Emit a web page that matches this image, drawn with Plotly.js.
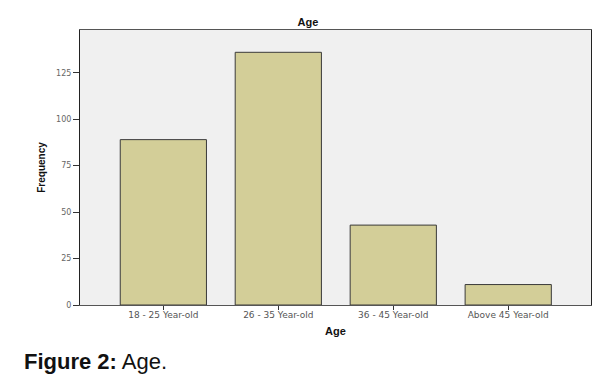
<!DOCTYPE html>
<html>
<head>
<meta charset="utf-8">
<script src="https://cdn.plot.ly/plotly-3.0.1.min.js"></script>
<style>html,body{margin:0;padding:0;background:#fff;}#chart{width:607px;height:377px;}</style>
</head>
<body>
<div id="chart"></div>
<script>
const categories = ["18 - 25 Year-old", "26 - 35 Year-old", "36 - 45 Year-old", "Above 45 Year-old"];
const frequency = [89, 136, 43, 11];
const yTickVals = [0, 25, 50, 75, 100, 125];
const yTickText = ["0", "25", "50", "75", "100", "125"];

const W = 607, H = 377;
const m = {l: 80, r: 16, t: 30, b: 72};
const pw = W - m.l - m.r, ph = H - m.t - m.b;
const px = x => (x - m.l) / pw;
const py = y => (H - m.b - y) / ph;

const trace = {
  type: 'bar',
  x: categories,
  y: frequency,
  width: 0.75,
  marker: {color: '#d3ce98', line: {color: '#3a3a3a', width: 1}},
  hoverinfo: 'x+y'
};

const layout = {
  width: W, height: H,
  margin: m,
  paper_bgcolor: '#ffffff',
  plot_bgcolor: '#f0f0f0',
  font: {family: 'Liberation Sans, Arial, sans-serif', color: '#333'},
  showlegend: false,
  title: {text: '<b>Age</b>', font: {size: 11, color: '#111'}, xref: 'container', x: 308/W, xanchor: 'center', yref: 'container', y: 1 - 22/H, yanchor: 'middle'},
  xaxis: {
    type: 'category',
    range: [-0.725, 3.72],
    showline: true, linecolor: '#555', linewidth: 1, mirror: true,
    ticks: 'outside', ticklen: 4, tickcolor: '#333', tickwidth: 1,
    ticklabelstandoff: -3,
    tickfont: {size: 9, color: '#555', family: 'DejaVu Sans, sans-serif'},
    showgrid: false, zeroline: false,
    title: {text: '<b>Age</b>', font: {size: 11, color: '#111'}, standoff: 8}
  },
  yaxis: {
    range: [0, 148],
    tickvals: yTickVals, ticktext: yTickText,
    showline: true, linecolor: '#222', linewidth: 1, mirror: true,
    ticks: 'outside', ticklen: 6, tickcolor: '#333', tickwidth: 1,
    tickfont: {size: 8, color: '#666', family: 'DejaVu Sans, sans-serif'},
    showgrid: false, zeroline: false,
    title: {text: '<b>Frequency</b>', font: {size: 10, color: '#111'}, standoff: 8}
  },
  annotations: [
    {xref: 'paper', yref: 'paper', x: px(22), y: py(361), xanchor: 'left', yanchor: 'middle', showarrow: false,
     text: '<b>Figure 2:</b> Age.', font: {size: 22, color: '#111', family: 'Liberation Sans, Arial, sans-serif'}}
  ]
};

Plotly.newPlot('chart', [trace], layout, {displayModeBar: false, staticPlot: true});
</script>
</body>
</html>
